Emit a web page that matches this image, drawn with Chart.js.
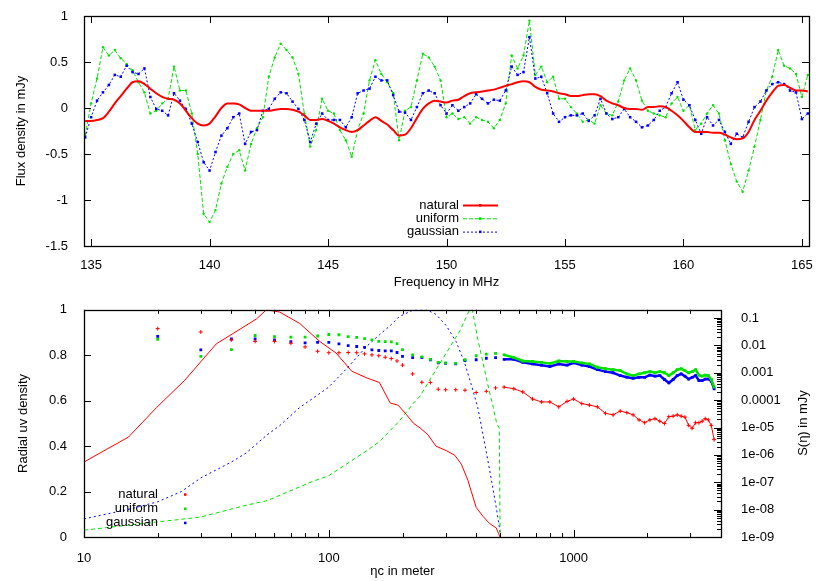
<!DOCTYPE html>
<html>
<head>
<meta charset="utf-8">
<script src="https://cdn.jsdelivr.net/npm/chart.js@4"></script>
<style>
  body { margin: 0; background: #fff; }
  #wrap { position: relative; width: 830px; height: 581px; }
  canvas { position: absolute; left: 0; }
  #spec { top: 0; }
  #uv { top: 290px; }
</style>
</head>
<body>
<div id="wrap">
  <canvas id="spec" width="830" height="290"></canvas>
  <canvas id="uv" width="830" height="291"></canvas>
</div>
<script>
// ---- top panel: flux density spectrum ----
const freqMHz = [
  134.75, 135, 135.25, 135.5, 135.75, 136, 136.25, 136.5,
  136.75, 137, 137.25, 137.5, 137.75, 138, 138.25, 138.5,
  138.75, 139, 139.25, 139.5, 139.75, 140, 140.25, 140.5,
  140.75, 141, 141.25, 141.5, 141.75, 142, 142.25, 142.5,
  142.75, 143, 143.25, 143.5, 143.75, 144, 144.25, 144.5,
  144.75, 145, 145.25, 145.5, 145.75, 146, 146.25, 146.5,
  146.75, 147, 147.25, 147.5, 147.75, 148, 148.25, 148.5,
  148.75, 149, 149.25, 149.5, 149.75, 150, 150.25, 150.5,
  150.75, 151, 151.25, 151.5, 151.75, 152, 152.25, 152.5,
  152.75, 153, 153.25, 153.5, 153.75, 154, 154.25, 154.5,
  154.75, 155, 155.25, 155.5, 155.75, 156, 156.25, 156.5,
  156.75, 157, 157.25, 157.5, 157.75, 158, 158.25, 158.5,
  158.75, 159, 159.25, 159.5, 159.75, 160, 160.25, 160.5,
  160.75, 161, 161.25, 161.5, 161.75, 162, 162.25, 162.5,
  162.75, 163, 163.25, 163.5, 163.75, 164, 164.25, 164.5,
  164.75, 165, 165.25
];
const fluxNatural = [
  -0.14, -0.14, -0.13, -0.11, -0.04, 0.05, 0.13, 0.21,
  0.28, 0.29, 0.26, 0.21, 0.16, 0.12, 0.10, 0.09,
  0.05, -0.03, -0.11, -0.17, -0.19, -0.17, -0.09, 0.00,
  0.05, 0.05, 0.04, 0.00, -0.03, -0.03, -0.03, -0.03,
  -0.02, -0.01, -0.01, -0.02, -0.04, -0.08, -0.13, -0.13,
  -0.12, -0.14, -0.17, -0.21, -0.24, -0.26, -0.24, -0.19,
  -0.14, -0.10, -0.14, -0.18, -0.24, -0.30, -0.29, -0.22,
  -0.11, -0.01, 0.05, 0.08, 0.07, 0.06, 0.08, 0.09,
  0.13, 0.16, 0.17, 0.18, 0.19, 0.20, 0.22, 0.24,
  0.26, 0.28, 0.29, 0.28, 0.23, 0.20, 0.19, 0.18,
  0.16, 0.15, 0.13, 0.13, 0.14, 0.15, 0.15, 0.13,
  0.08, 0.05, 0.03, 0.00, -0.01, -0.01, -0.02, 0.01,
  0.01, 0.02, 0.01, -0.03, -0.08, -0.14, -0.21, -0.26,
  -0.26, -0.26, -0.27, -0.27, -0.29, -0.32, -0.34, -0.33,
  -0.26, -0.13, -0.03, 0.08, 0.17, 0.24, 0.25, 0.22,
  0.19, 0.19, 0.18
];
const fluxUniform = [
  -0.30, 0.05, 0.32, 0.66, 0.57, 0.63, 0.54, 0.48,
  0.41, 0.28, 0.17, -0.06, -0.03, 0.05, 0.10, 0.45,
  0.19, 0.19, -0.06, -0.50, -1.15, -1.24, -1.11, -0.82,
  -0.64, -0.50, -0.46, -0.68, -0.39, -0.22, -0.10, 0.34,
  0.55, 0.70, 0.63, 0.55, 0.37, -0.06, -0.42, -0.24,
  0.10, -0.03, -0.06, -0.24, -0.35, -0.53, -0.24, -0.06,
  0.30, 0.52, 0.37, 0.28, 0.16, -0.35, -0.03, 0.01,
  0.30, 0.59, 0.55, 0.45, 0.30, -0.10, -0.06, -0.12,
  -0.10, -0.17, -0.10, -0.13, -0.15, -0.22, -0.13, 0.05,
  0.57, 0.43, 0.57, 0.95, 0.36, 0.45, 0.28, 0.34,
  0.10, 0.10, 0.01, -0.06, -0.15, -0.13, -0.17, 0.03,
  -0.06, -0.08, 0.07, 0.30, 0.43, 0.30, 0.08, -0.03,
  -0.06, -0.08, -0.10, 0.05, 0.12, -0.03, 0.03, -0.24,
  -0.17, -0.06, 0.03, -0.06, -0.35, -0.61, -0.80, -0.91,
  -0.68, -0.42, -0.13, 0.19, 0.34, 0.63, 0.46, 0.43,
  0.37, 0.12, 0.36
];
const fluxGaussian = [
  -0.32, -0.10, 0.08, 0.17, 0.25, 0.36, 0.34, 0.46,
  0.39, 0.37, 0.43, 0.12, -0.01, -0.03, -0.08, 0.16,
  0.08, -0.01, -0.17, -0.37, -0.59, -0.68, -0.48, -0.30,
  -0.22, -0.10, -0.06, -0.39, -0.26, -0.24, -0.03, -0.01,
  0.10, 0.17, 0.16, 0.07, -0.01, -0.13, -0.37, -0.17,
  -0.06, -0.13, -0.13, -0.13, -0.21, -0.10, 0.16, 0.19,
  0.21, 0.34, 0.30, 0.30, 0.14, -0.04, -0.05, -0.13,
  0.01, 0.16, 0.19, 0.16, 0.03, -0.06, 0.03, -0.03,
  0.01, 0.05, 0.15, 0.10, 0.05, 0.09, 0.08, 0.19,
  0.45, 0.36, 0.39, 0.77, 0.32, 0.34, 0.16, -0.06,
  -0.15, -0.10, -0.08, -0.08, -0.06, -0.14, -0.08, 0.10,
  -0.06, -0.12, -0.10, -0.01, -0.10, -0.15, -0.21, -0.19,
  -0.13, -0.03, 0.01, 0.16, 0.28, 0.09, 0.03, -0.13,
  -0.28, -0.10, -0.19, -0.13, -0.26, -0.39, -0.28, -0.32,
  -0.15, 0.01, 0.07, 0.19, 0.26, 0.28, 0.26, 0.19,
  0.17, -0.12, -0.06
];
const specXTicks = [135, 140, 145, 150, 155, 160, 165];
const specYTicks = [-1.5, -1, -0.5, 0, 0.5, 1];
const specYLabels = ['-1.5', '-1', '-0.5', '0', '0.5', '1'];

// ---- bottom panel: radial uv density (left) and S(eta) (right) ----
const etaNatUv = [10, 15.2, 19.8, 25.8, 34.7, 50.7, 55.6, 63, 76, 92, 107, 124, 143, 161, 178, 192, 207, 222, 236, 254, 274, 302, 327, 348, 370, 382, 400, 427, 453, 483, 494, 500];
const uvNatural = [0.33, 0.44, 0.57, 0.69, 0.85, 0.96, 1.0, 0.99, 0.94, 0.86, 0.81, 0.73, 0.70, 0.68, 0.59, 0.58, 0.54, 0.50, 0.48, 0.45, 0.40, 0.38, 0.36, 0.32, 0.25, 0.20, 0.13, 0.09, 0.06, 0.04, 0.015, 0];
const etaGauUv = [10, 15, 20, 25, 30, 40, 46, 56, 63, 76, 86, 100, 118, 143, 161, 178, 194, 222, 251, 274, 302, 331, 358, 382, 406, 432, 460, 483, 498, 503];
const uvGaussian = [0.08, 0.12, 0.155, 0.2, 0.26, 0.33, 0.37, 0.45, 0.49, 0.57, 0.61, 0.66, 0.74, 0.84, 0.89, 0.93, 0.97, 1.0, 1.0, 0.98, 0.93, 0.86, 0.77, 0.67, 0.57, 0.42, 0.26, 0.13, 0.04, 0];
const etaUniUv = [10, 16, 25, 30, 46, 56, 86, 100, 143, 161, 194, 222, 236, 258, 302, 344, 376, 386, 406, 420, 438, 455, 470, 485, 497, 501];
const uvUniform = [0.03, 0.055, 0.078, 0.088, 0.14, 0.16, 0.245, 0.27, 0.38, 0.42, 0.51, 0.59, 0.62, 0.69, 0.81, 0.91, 1.0, 1.0, 0.87, 0.80, 0.71, 0.63, 0.57, 0.50, 0.48, 0];

const etaS = [
  20, 30, 40, 50, 60, 70, 80, 90, 100, 110, 120, 130, 140, 150, 160, 170, 180, 190, 200,
  220, 240, 260, 280, 300, 330, 360, 400, 440, 480, 520, 570, 620, 680, 740, 800, 870, 940, 1000,
  1080, 1160, 1250, 1350, 1450, 1550, 1650, 1750, 1850, 1950, 2050, 2150, 2250, 2350, 2450, 2550,
  2650, 2750, 2850, 2950, 3050, 3150, 3250, 3350, 3450, 3550, 3650, 3750
];
const sNatural = [
  0.041, 0.031, 0.016, 0.014, 0.014, 0.012, 0.0088, 0.0061, 0.0054, 0.0054, 0.0055, 0.0054, 0.0049, 0.0045, 0.0042, 0.0037, 0.0033, 0.0027, 0.0019,
  0.00091, 0.00045, 0.00044, 0.00025, 0.00024, 0.00024, 0.00023, 0.00019, 0.00021, 0.00028, 0.00030, 0.00026, 0.00020, 0.00011, 8.6e-5, 8.6e-5, 5.7e-5, 9.0e-5, 1.1e-4,
  7.5e-5, 6.6e-5, 5.7e-5, 3.3e-5, 2.9e-5, 4.0e-5, 3.5e-5, 2.9e-5, 1.9e-5, 1.5e-5, 1.9e-5, 2.1e-5, 1.7e-5, 1.4e-5, 2.5e-5, 2.6e-5,
  2.9e-5, 2.6e-5, 2.4e-5, 1.2e-5, 9.4e-6, 1.5e-5, 1.5e-5, 1.7e-5, 2.1e-5, 1.9e-5, 1.2e-5, 3.6e-6
];
const sUniform = [
  0.0166, 0.0040, 0.0070, 0.023, 0.021, 0.020, 0.020, 0.022, 0.025, 0.0245, 0.021, 0.0196, 0.0176, 0.016, 0.014, 0.0137, 0.0134, 0.0116, 0.0070,
  0.0045, 0.0038, 0.0031, 0.0024, 0.0023, 0.0022, 0.0030, 0.0042, 0.0048, 0.0051, 0.0045, 0.0036, 0.0027, 0.0026, 0.0024, 0.0022, 0.0027, 0.0026, 0.0026,
  0.0023, 0.0021, 0.0016, 0.0014, 0.0013, 0.0012, 0.00091, 0.00079, 0.00091, 0.0010, 0.0011, 0.0010, 0.0011, 0.0010, 0.00079, 0.0010,
  0.0013, 0.0014, 0.0012, 0.0010, 0.0011, 0.0013, 0.00082, 0.00075, 0.00082, 0.00079, 0.00057, 0.00030
];
const sGaussian = [
  0.0214, 0.0069, 0.0172, 0.0172, 0.0158, 0.0137, 0.0123, 0.0129, 0.0129, 0.0113, 0.0098, 0.0091, 0.0085, 0.0069, 0.0065, 0.0063, 0.0063, 0.0055, 0.0040,
  0.0036, 0.0036, 0.0030, 0.0023, 0.0022, 0.0021, 0.0028, 0.0030, 0.0034, 0.0036, 0.0031, 0.0031, 0.0024, 0.0021, 0.0019, 0.0017, 0.0021, 0.0019, 0.0023,
  0.0019, 0.0017, 0.0013, 0.0011, 0.0010, 0.00079, 0.00069, 0.00063, 0.00068, 0.00068, 0.00082, 0.00075, 0.00079, 0.00057, 0.00043, 0.00057,
  0.00079, 0.00091, 0.00075, 0.00059, 0.00068, 0.00079, 0.00052, 0.00052, 0.00059, 0.00059, 0.00050, 0.00026
];
const uvXTicks = [10, 100, 1000];
const uvXLabels = ['10', '100', '1000'];
const uvXMinor = [20, 30, 40, 50, 60, 70, 80, 90, 200, 300, 400, 500, 600, 700, 800, 900, 2000, 3000];
const uvYTicks = [0, 0.2, 0.4, 0.6, 0.8, 1];
const uvYLabels = ['0', '0.2', '0.4', '0.6', '0.8', '1'];
const sTicks = [1e-9, 1e-8, 1e-7, 1e-6, 1e-5, 1e-4, 1e-3, 1e-2, 0.1];
const sLabels = ['1e-09', '1e-08', '1e-07', '1e-06', '1e-05', '0.0001', '0.001', '0.01', '0.1'];

const RED = 'rgb(255,0,0)';
const GREEN = 'rgb(0,225,0)';
const BLUE = 'rgb(0,0,255)';
const FONT = '"Liberation Sans", Arial, sans-serif';

Chart.defaults.font.family = FONT;
Chart.defaults.font.size = 13;
Chart.defaults.color = '#000';

const pts = (xs, ys) => xs.map((x, i) => ({ x: x, y: ys[i] }));

// log minor ticks on the right axis, 2..9 of each decade
const sMinor = [];
for (let e = -9; e <= -1; e++) {
  for (let m = 2; m <= 9; m++) sMinor.push(m * Math.pow(10, e));
}

// frame round the plot with gnuplot style inward tick marks
const frameTicks = {
  id: 'frameTicks',
  afterDatasetsDraw(chart, args, o) {
    const { ctx, chartArea: a, scales } = chart;
    const px = v => Math.round(v) + 0.5;
    const mark = (x1, y1, x2, y2) => { ctx.moveTo(x1, y1); ctx.lineTo(x2, y2); };
    ctx.save();
    ctx.strokeStyle = '#000';
    ctx.lineWidth = 1;
    ctx.beginPath();
    o.x.forEach(([vals, len]) => vals.forEach(v => {
      const x = px(scales.x.getPixelForValue(v));
      mark(x, a.bottom, x, a.bottom - len);
      mark(x, a.top, x, a.top + len);
    }));
    o.left.forEach(([vals, len]) => vals.forEach(v => {
      const y = px(scales.y.getPixelForValue(v));
      mark(a.left, y, a.left + len, y);
      if (!o.right) mark(a.right, y, a.right - len, y);
    }));
    (o.right || []).forEach(([vals, len]) => vals.forEach(v => {
      if (v > scales.y2.max) return;
      const y = px(scales.y2.getPixelForValue(v));
      mark(a.right, y, a.right - len, y);
    }));
    ctx.stroke();
    ctx.lineWidth = 1.3;
    ctx.strokeRect(px(a.left), px(a.top), Math.round(a.right - a.left), Math.round(a.bottom - a.top));
    ctx.restore();
  }
};

// key drawn where gnuplot puts it
const keyBox = {
  id: 'keyBox',
  afterDraw(chart, args, o) {
    const { ctx } = chart;
    ctx.save();
    ctx.font = '13px ' + FONT;
    ctx.textAlign = 'right';
    ctx.textBaseline = 'middle';
    o.items.forEach((idx, k) => {
      const ds = chart.data.datasets[idx];
      const y = o.y + k * o.dy;
      ctx.fillStyle = '#000';
      ctx.fillText(ds.label, o.x, y);
      if (o.line) {
        ctx.strokeStyle = ds.borderColor;
        ctx.lineWidth = ds.borderWidth;
        ctx.setLineDash(ds.borderDash || []);
        ctx.beginPath();
        ctx.moveTo(o.x + 4, y + 0.5);
        ctx.lineTo(o.x + 39, y + 0.5);
        ctx.stroke();
        ctx.setLineDash([]);
      }
      ctx.fillStyle = ds.borderColor;
      ctx.fillRect(o.x + o.dot - 1, y - 1, 2.5, 2.5);
    });
    ctx.restore();
  }
};

// right hand title, reading upwards
const sideTitle = {
  id: 'sideTitle',
  afterDraw(chart, args, o) {
    if (!o.text) return;
    const { ctx } = chart;
    ctx.save();
    ctx.translate(o.x, o.y);
    ctx.rotate(-Math.PI / 2);
    ctx.font = '13px ' + FONT;
    ctx.fillStyle = '#000';
    ctx.textAlign = 'center';
    ctx.textBaseline = 'middle';
    ctx.fillText(o.text, 0, 0);
    ctx.restore();
  }
};

const hidden = { display: false };

let specChart = new Chart(document.getElementById('spec'), {
  type: 'line',
  data: {
    datasets: [
      { label: 'natural', data: pts(freqMHz, fluxNatural), borderColor: RED, backgroundColor: RED,
        borderWidth: 2, pointRadius: 0, cubicInterpolationMode: 'monotone', order: 0 },
      { label: 'uniform', data: pts(freqMHz, fluxUniform), borderColor: GREEN, backgroundColor: GREEN,
        borderWidth: 1, borderDash: [4, 2], pointRadius: 1.2, pointBorderWidth: 0, pointBackgroundColor: GREEN, order: 2 },
      { label: 'gaussian', data: pts(freqMHz, fluxGaussian), borderColor: BLUE, backgroundColor: BLUE,
        borderWidth: 1, borderDash: [2, 2], pointStyle: 'rect', pointRadius: 1.8, pointBorderWidth: 0, pointBackgroundColor: BLUE, order: 1 }
    ]
  },
  options: {
    responsive: false,
    animation: false,
    layout: { padding: { left: 0, right: 21, top: 16, bottom: 0 } },
    plugins: {
      legend: hidden,
      tooltip: { enabled: false },
      frameTicks: { x: [[specXTicks, 7]], left: [[specYTicks, 7]] },
      keyBox: { items: [0, 1, 2], x: 459, y: 205, dy: 13.3, line: true, dot: 21 }
    },
    scales: {
      x: {
        type: 'linear', min: 134.7, max: 165.3,
        grid: hidden, border: hidden,
        afterBuildTicks: a => { a.ticks = specXTicks.map(v => ({ value: v })); },
        afterFit: a => { a.height = 44; },
        ticks: { padding: 4, maxRotation: 0, autoSkip: false, callback: v => String(v) },
        title: { display: true, text: 'Frequency in MHz', padding: { top: 0, bottom: 0 } }
      },
      y: {
        min: -1.5, max: 1,
        grid: hidden, border: hidden,
        afterBuildTicks: a => { a.ticks = specYTicks.map(v => ({ value: v })); },
        afterFit: a => { a.width = 84; },
        ticks: { padding: 8, autoSkip: false, callback: (v, i) => specYLabels[i] },
        title: { display: true, text: 'Flux density in mJy', padding: { top: 14, bottom: 0 } }
      }
    }
  },
  plugins: [frameTicks, keyBox]
});

// only join the S(eta) points where they are dense
const denseOnly = c => (c.p0.parsed.x < 500 ? 'rgba(0,0,0,0)' : undefined);

let uvChart = new Chart(document.getElementById('uv'), {
  type: 'line',
  data: {
    datasets: [
      { label: 'natural', data: pts(etaS, sNatural), yAxisID: 'y2', borderColor: RED, backgroundColor: RED,
        borderWidth: 1, pointStyle: 'cross', pointRadius: 2, pointBorderWidth: 1, segment: { borderColor: denseOnly } },
      { label: 'uniform', data: pts(etaS, sUniform), yAxisID: 'y2', borderColor: GREEN, backgroundColor: GREEN,
        borderWidth: 2.5, pointStyle: 'rect', pointRadius: 2, pointBorderWidth: 0, pointBackgroundColor: GREEN, segment: { borderColor: denseOnly } },
      { label: 'gaussian', data: pts(etaS, sGaussian), yAxisID: 'y2', borderColor: BLUE, backgroundColor: BLUE,
        borderWidth: 2.5, pointStyle: 'rect', pointRadius: 2, pointBorderWidth: 0, pointBackgroundColor: BLUE, segment: { borderColor: denseOnly } },
      { label: '', data: pts(etaNatUv, uvNatural), yAxisID: 'y', borderColor: RED, borderWidth: 1, pointRadius: 0 },
      { label: '', data: pts(etaUniUv, uvUniform), yAxisID: 'y', borderColor: GREEN, borderWidth: 1, borderDash: [4, 3], pointRadius: 0 },
      { label: '', data: pts(etaGauUv, uvGaussian), yAxisID: 'y', borderColor: BLUE, borderWidth: 1, borderDash: [2, 3], pointRadius: 0 }
    ]
  },
  options: {
    responsive: false,
    animation: false,
    layout: { padding: { left: 0, right: 0, top: 17, bottom: 0 } },
    plugins: {
      legend: hidden,
      tooltip: { enabled: false },
      frameTicks: { x: [[uvXTicks, 7], [uvXMinor, 4]], left: [[uvYTicks, 7]], right: [[sTicks, 7], [sMinor, 4]] },
      keyBox: { items: [0, 1, 2], x: 158, y: 204.3, dy: 14.2, line: false, dot: 27 },
      sideTitle: { text: 'S(\u03b7) in mJy', x: 803, y: 133 }
    },
    scales: {
      x: {
        type: 'logarithmic', min: 10, max: 4000,
        grid: hidden, border: hidden,
        afterBuildTicks: a => { a.ticks = uvXTicks.map(v => ({ value: v })); },
        afterFit: a => { a.height = 44; },
        ticks: { padding: 6, maxRotation: 0, autoSkip: false, callback: (v, i) => uvXLabels[i] },
        title: { display: true, text: '\u03b7c in meter', padding: { top: 0, bottom: 2 } }
      },
      y: {
        position: 'left', min: 0, max: 1,
        grid: hidden, border: hidden,
        afterBuildTicks: a => { a.ticks = uvYTicks.map(v => ({ value: v })); },
        afterFit: a => { a.width = 84; },
        ticks: { padding: 9, autoSkip: false, callback: (v, i) => uvYLabels[i] },
        title: { display: true, text: 'Radial uv density', padding: { top: 16, bottom: 0 } }
      },
      y2: {
        type: 'logarithmic', position: 'right', min: 1e-9, max: 0.2,
        grid: hidden, border: hidden,
        afterBuildTicks: a => { a.ticks = sTicks.map(v => ({ value: v })); },
        afterFit: a => { a.width = 109; },
        ticks: { padding: 12, autoSkip: false, callback: (v, i) => sLabels[i] }
      }
    }
  },
  plugins: [frameTicks, keyBox, sideTitle]
});
</script>
</body>
</html>
